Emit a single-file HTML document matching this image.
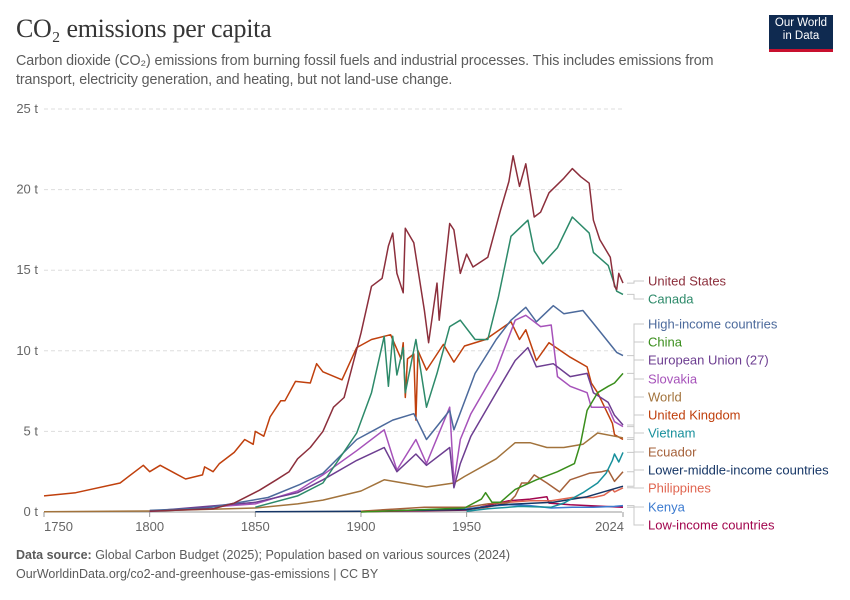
<!DOCTYPE html>
<html><head><meta charset="utf-8">
<style>
body{margin:0;background:#fff;width:850px;height:600px;overflow:hidden;font-family:"Liberation Sans",sans-serif;}
#title{position:absolute;left:16px;top:14px;font-family:"Liberation Serif",serif;font-size:26px;color:#363636;margin:0;font-weight:normal;letter-spacing:-0.3px}
#sub{position:absolute;left:16px;top:52px;width:760px;font-size:14.3px;line-height:19px;color:#5b5b5b;letter-spacing:-0.1px}
#logo{position:absolute;left:769px;top:15px;width:64px;height:37px;background:#0f2a50;border-bottom:3px solid #c8102e;color:#fff;font-size:11.5px;line-height:13px;text-align:center;padding-top:2px;box-sizing:border-box}
#foot{position:absolute;left:16px;top:546px;font-size:12.5px;line-height:19px;color:#5b5b5b}
svg{position:absolute;left:0;top:0}
</style></head><body>
<h1 id="title">CO₂ emissions per capita</h1>
<div id="sub">Carbon dioxide (CO₂) emissions from burning fossil fuels and industrial processes. This includes emissions from transport, electricity generation, and heating, but not land-use change.</div>
<div id="logo">Our World<br>in Data</div>
<svg id="chart" width="850" height="600"></svg>
<div id="foot"><b>Data source:</b> Global Carbon Budget (2025); Population based on various sources (2024)<br>OurWorldinData.org/co2-and-greenhouse-gas-emissions | CC BY</div>
<script>
const yTicks=[0,5,10,15,20,25];
const xTicks=[1750,1800,1850,1900,1950,2024];
const usYears=[1800,1830,1840,1852,1860,1866,1870,1876,1882,1887,1892,1900,1905,1910,1913,1915,1917,1920,1921,1925,1930,1932,1936,1937,1942,1944,1947,1950,1953,1960,1966,1970,1972,1975,1978,1982,1985,1989,1996,2000,2004,2008,2010,2013,2018,2020,2021,2022,2024];
const usVals=[0.05,0.2,0.55,1.35,2.0,2.5,3.3,4.0,5.0,6.5,7.1,11.1,14.0,14.5,16.5,17.3,14.8,13.6,17.6,16.7,12.5,10.5,14.2,11.9,17.9,17.5,14.8,16.0,15.2,15.8,18.7,20.5,22.1,20.2,21.6,18.3,18.6,19.8,20.7,21.3,20.8,20.4,18.1,16.9,15.8,14.0,13.8,14.8,14.2];
const caYears=[1850,1870,1882,1898,1905,1911,1913,1915,1917,1920,1921,1926,1931,1936,1942,1947,1954,1960,1965,1971,1979,1982,1986,1993,2000,2008,2010,2017,2021,2024];
const caVals=[0.3,1.0,1.8,4.9,7.4,10.9,7.8,10.9,8.5,10.2,7.4,10.7,6.5,8.6,11.5,11.9,10.7,10.7,13.3,17.1,18.1,16.2,15.4,16.4,18.3,17.3,16.1,15.3,13.7,13.5];
const ukYears=[1750,1765,1786,1797,1800,1805,1812,1817,1825,1826,1830,1833,1840,1845,1849,1850,1854,1857,1862,1864,1869,1876,1879,1882,1891,1898,1905,1914,1919,1920,1921,1922,1925,1926,1927,1931,1939,1944,1949,1959,1971,1975,1978,1983,1989,1999,2007,2009,2012,2019,2020,2024];
const ukVals=[1.0,1.2,1.8,2.9,2.5,2.9,2.4,2.05,2.3,2.8,2.5,3.0,3.7,4.5,4.2,5.0,4.7,5.9,6.9,6.9,8.1,8.0,9.2,8.7,8.2,10.2,10.7,11.0,9.5,10.5,7.1,9.5,9.8,5.7,10.0,8.8,10.4,9.3,10.3,10.7,11.8,10.7,11.3,9.4,10.5,9.6,9.0,8.0,7.4,5.5,4.8,4.5];
const hiYears=[1800,1827,1856,1871,1882,1898,1915,1925,1931,1942,1944,1954,1964,1971,1978,1983,1991,1996,2005,2010,2021,2024];
const hiVals=[0.1,0.25,0.9,1.7,2.4,4.5,5.7,6.1,4.5,6.3,5.1,8.6,10.7,11.9,12.7,11.8,12.8,12.3,12.5,11.7,9.9,9.7];
const cnYears=[1900,1949,1957,1959,1962,1966,1973,1983,1993,2001,2004,2007,2012,2017,2020,2024];
const cnVals=[0.0,0.25,0.8,1.2,0.6,0.6,1.4,2.0,2.5,3.0,4.3,6.3,7.4,7.8,8.0,8.6];
const euYears=[1800,1850,1870,1882,1898,1911,1917,1926,1931,1942,1944,1947,1952,1964,1973,1979,1983,1991,1999,2007,2010,2017,2020,2024];
const euVals=[0.05,0.6,1.2,2.0,3.2,4.0,2.5,3.6,2.9,4.0,1.5,3.0,4.7,7.4,9.4,10.2,9.0,9.2,8.4,8.6,7.4,6.8,6.0,5.4];
const skYears=[1800,1850,1870,1882,1898,1911,1917,1926,1931,1942,1944,1947,1952,1964,1973,1978,1985,1990,1993,1999,2007,2009,2017,2020,2024];
const skVals=[0.03,0.5,1.3,2.3,3.8,5.1,2.6,4.5,3.0,6.5,1.8,4.5,6.1,8.8,11.9,12.2,11.5,11.6,8.4,7.8,7.4,6.5,6.5,5.6,5.3];
const wdYears=[1750,1800,1850,1870,1882,1900,1911,1920,1931,1944,1949,1964,1973,1980,1988,1996,2005,2012,2020,2024];
const wdVals=[0.02,0.06,0.25,0.5,0.74,1.3,2.0,1.8,1.55,1.8,2.2,3.3,4.3,4.3,4.0,4.0,4.2,4.9,4.7,4.6];
const vnYears=[1950,1960,1975,1990,1996,2005,2012,2016,2019,2020,2022,2024];
const vnVals=[0.05,0.2,0.35,0.3,0.55,1.2,1.8,2.4,3.2,3.6,3.1,3.7];
const ecYears=[1900,1930,1950,1960,1970,1973,1976,1979,1982,1988,1994,1999,2008,2014,2017,2020,2024];
const ecVals=[0.05,0.3,0.3,0.5,0.6,1.0,1.8,1.8,2.3,1.8,1.25,2.0,2.4,2.5,2.6,1.9,2.5];
const lmYears=[1850,1900,1950,1966,1991,2007,2024];
const lmVals=[0.02,0.05,0.15,0.45,0.6,0.95,1.6];
const phYears=[1900,1950,1960,1970,1980,1990,2000,2010,2015,2019,2020,2024];
const phVals=[0.05,0.15,0.3,0.6,0.7,0.7,0.9,0.9,1.05,1.4,1.25,1.5];
const keYears=[1920,1950,1960,1970,1980,1990,2000,2010,2020,2024];
const keVals=[0.1,0.2,0.35,0.45,0.4,0.25,0.3,0.3,0.35,0.4];
const liYears=[1900,1950,1970,1980,1988,1989,1999,2015,2024];
const liVals=[0.02,0.12,0.7,0.8,0.95,0.55,0.45,0.35,0.3];

const series=[
 ["United States",usYears,usVals,"#8c2f3c",281],
 ["Canada",caYears,caVals,"#2d8a6a",299],
 ["High-income countries",hiYears,hiVals,"#4c6a9c",324],
 ["China",cnYears,cnVals,"#3a8e1c",342],
 ["European Union (27)",euYears,euVals,"#6d3e91",360],
 ["Slovakia",skYears,skVals,"#a652ba",379],
 ["World",wdYears,wdVals,"#a2733c",397],
 ["United Kingdom",ukYears,ukVals,"#c0400d",415],
 ["Vietnam",vnYears,vnVals,"#18909c",433],
 ["Ecuador",ecYears,ecVals,"#a5613a",452],
 ["Lower-middle-income countries",lmYears,lmVals,"#163666",470],
 ["Philippines",phYears,phVals,"#e06550",488],
 ["Kenya",keYears,keVals,"#3c7bd0",507],
 ["Low-income countries",liYears,liVals,"#a2064e",525]
];
const NS="http://www.w3.org/2000/svg";
const svg=document.getElementById('chart');
const X0=44,X1=623,Y0=512,Y1=109;
const x=yr=>X0+(yr-1750)/(2024-1750)*(X1-X0);
const y=v=>Y0-v/25*(Y0-Y1);
function mk(t,a){const e=document.createElementNS(NS,t);for(const k in a)e.setAttribute(k,a[k]);svg.appendChild(e);return e;}
yTicks.forEach(v=>{
 const g=mk('line',{x1:X0,x2:622,y1:y(v),y2:y(v),stroke:v?'#dddddd':'#999',"stroke-dasharray":v?'4,3':'none'});
 
 
 const t=mk('text',{x:38,y:y(v)+4,"text-anchor":"end","font-size":13,fill:'#666'});
 t.textContent=v+' t';
 
 
});
xTicks.forEach((yr,i)=>{
 const tk=mk('line',{x1:x(yr),x2:x(yr),y1:Y0,y2:Y0+5,stroke:'#999'});
 
 
 const last=i==xTicks.length-1, first=i==0;
 const t=mk('text',{x:last?x(yr)+1:x(yr),y:Y0+19,"text-anchor":last?"end":(first?"start":"middle"),"font-size":13,fill:'#666'});
 t.textContent=yr;
 
 
});
series.slice().reverse().forEach(s=>{
 const [name,ys,vs,col,ly]=s;
 const d=ys.map((yr,i)=>(i?'L':'M')+x(yr).toFixed(1)+','+y(vs[i]).toFixed(1)).join('');
 const p=mk('path',{d:d,fill:'none',stroke:col,"stroke-width":1.5,"stroke-linejoin":"round"});
 
 
 const ey=y(vs[vs.length-1]);
 const c=mk('path',{d:`M627,${ey.toFixed(1)}H634V${ly}H644`,fill:'none',stroke:'#c8c8c8',"stroke-width":1});
 
 
 const t=mk('text',{x:648,y:ly+4.5,"font-size":13,fill:col});
 t.textContent=name;
 
 
});
</script>
</body></html>
